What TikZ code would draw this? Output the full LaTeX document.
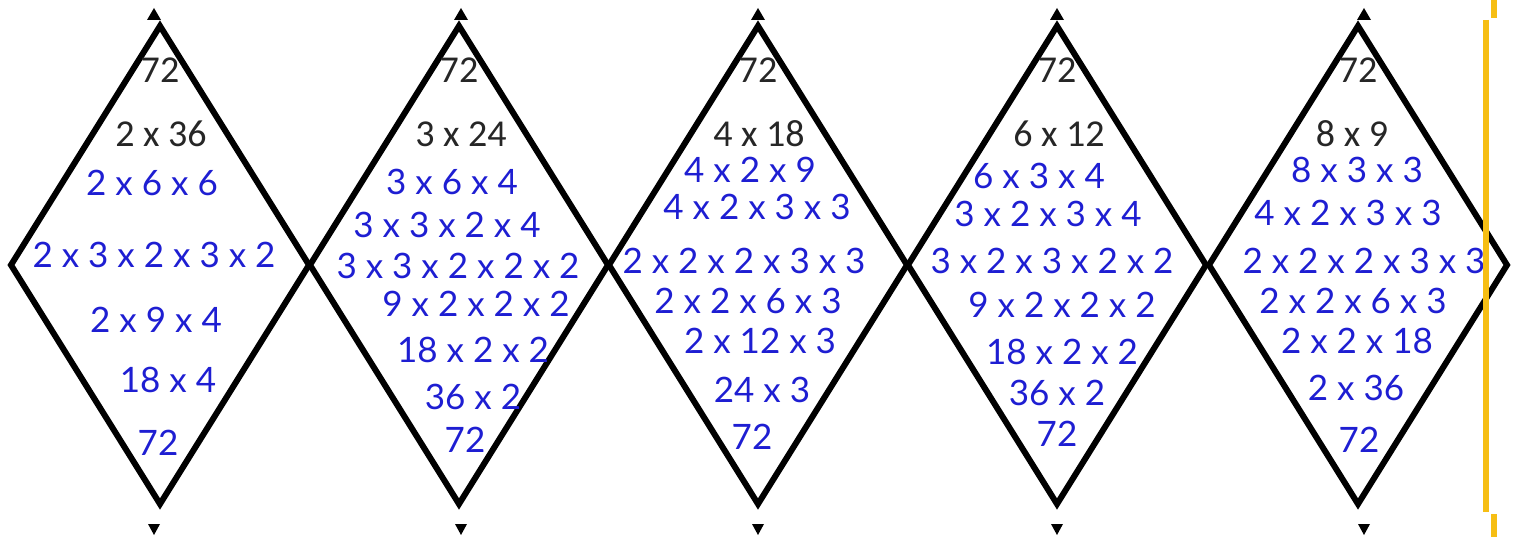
\documentclass[tikz,border=0pt]{standalone}
\usepackage{fontspec}
\setmainfont{Carlito}
\newfontfamily\handfont{Lato}
\usetikzlibrary{shapes.geometric, positioning, calc}
\definecolor{handblue}{RGB}{30,30,210}
\definecolor{goldline}{RGB}{246,190,20}

\begin{document}
\begin{tikzpicture}[
  x=1pt, y=-1pt,
  rhomb/.style = {diamond, draw=black, line width=6pt,
                  minimum width=298pt, minimum height=478pt,
                  inner sep=0pt, outer sep=0pt},
  total/.style = {font=\fontsize{38}{42}\selectfont, text=black!85, inner sep=0pt},
  hand/.style  = {font=\handfont\fontsize{35}{40}\selectfont, text=handblue, inner sep=0pt},
  tip/.style   = {fill=black},
  edge/.style  = {draw=goldline, line width=6pt},
]
\useasboundingbox (0,0) rectangle (1513,537);

%% Diamonds, printed lines and end marks
\foreach \name/\cx/\dx/\pair/\px in {d1/160/-6/2 x 36/161, d2/459/2/3 x 24/461,
    d3/758/0/4 x 18/759, d4/1057/0/6 x 12/1059, d5/1358/6/8 x 9/1352} {
  \node[rhomb] (\name) at (\cx,265) {};
  \node[total] (\name-top) at (\cx,70) {72};
  \node[total] (\name-pair) at (\px,134) {\pair};
  \fill[tip] ({\cx+\dx},8) -- ({\cx+\dx+7},20) -- ({\cx+\dx-7},20) -- cycle;
  \fill[tip] ({\cx+\dx},535) -- ({\cx+\dx+6},524) -- ({\cx+\dx-6},524) -- cycle;
}

%% Handwritten factorisations
\foreach \txt/\xx/\yy [count=\i] in {2 x 6 x 6/152/183, 2 x 3 x 2 x 3 x 2/154/255,
    2 x 9 x 4/156/320, 18 x 4/168/380, 72/158/443}
  \node[hand] (d1-r\i) at (\xx,\yy) {\txt};

\foreach \txt/\xx/\yy [count=\i] in {3 x 6 x 4/452/182, 3 x 3 x 2 x 4/447/225,
    3 x 3 x 2 x 2 x 2/458/266, 9 x 2 x 2 x 2/476/304, 18 x 2 x 2/473/350,
    36 x 2/473/397, 72/465/440}
  \node[hand] (d2-r\i) at (\xx,\yy) {\txt};

\foreach \txt/\xx/\yy [count=\i] in {4 x 2 x 9/750/170, 4 x 2 x 3 x 3/757/207,
    2 x 2 x 2 x 3 x 3/744/261, 2 x 2 x 6 x 3/748/301, 2 x 12 x 3/760/341,
    24 x 3/762/390, 72/752/437}
  \node[hand] (d3-r\i) at (\xx,\yy) {\txt};

\foreach \txt/\xx/\yy [count=\i] in {6 x 3 x 4/1039/176, 3 x 2 x 3 x 4/1048/214,
    3 x 2 x 3 x 2 x 2/1052/261, 9 x 2 x 2 x 2/1062/305, 18 x 2 x 2/1062/352,
    36 x 2/1057/393, 72/1057/434}
  \node[hand] (d4-r\i) at (\xx,\yy) {\txt};

\foreach \txt/\xx/\yy [count=\i] in {8 x 3 x 3/1357/170, 4 x 2 x 3 x 3/1348/213,
    2 x 2 x 2 x 3 x 3/1364/261, 2 x 2 x 6 x 3/1353/301, 2 x 2 x 18/1357/341,
    2 x 36/1356/388, 72/1359/440}
  \node[hand] (d5-r\i) at (\xx,\yy) {\txt};

%% Fold line at the right
\draw[edge] (1486,20) -- (1486,512);
\draw[edge] (1494,0) -- (1494,18);
\draw[edge] (1494,514) -- (1494,537);

\end{tikzpicture}
\end{document}
